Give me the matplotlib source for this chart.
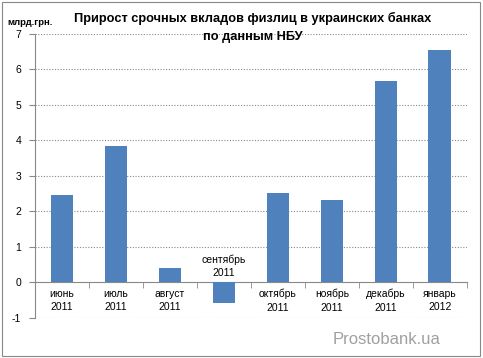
import matplotlib
matplotlib.use("Agg")
import matplotlib.pyplot as plt
import numpy as np

months = ["июнь", "июль", "август", "сентябрь", "октябрь", "ноябрь", "декабрь", "январь"]
years = ["2011", "2011", "2011", "2011", "2011", "2011", "2011", "2012"]
values = [2.45, 3.85, 0.42, -0.58, 2.52, 2.32, 5.67, 6.55]

plt.rcParams["font.family"] = ["Liberation Sans", "DejaVu Sans"]
plt.rcParams["axes.unicode_minus"] = False

fig = plt.figure(figsize=(4.83, 3.58), dpi=100)
ax = fig.add_axes([0.0725, 0.112, 0.894, 0.793])

x = np.arange(len(values))
ax.bar(x, values, width=0.42, color="#4F81BD", zorder=3)

ax.set_xlim(-0.5, len(values) - 0.5)
ax.set_ylim(-1, 7)
ax.set_yticks(range(-1, 8))
ax.tick_params(axis="y", labelsize=7.5, length=4, color="#888888", pad=6)
for y in range(-1, 8):
    if y != 0:
        ax.axhline(y, color="#888888", lw=0.8, ls=(0, (1, 1.5)), zorder=1)

for s in ["top", "right"]:
    ax.spines[s].set_visible(False)
ax.spines["left"].set_color("#888888")
ax.spines["bottom"].set_position(("data", 0))
ax.spines["bottom"].set_color("#888888")
ax.set_xticks([])
ax.set_xticks(np.arange(-0.5, len(values)), minor=True)
ax.tick_params(axis="x", which="minor", length=4, color="#888888", direction="out")

for i, (m, yr, v) in enumerate(zip(months, years, values)):
    if v < 0:
        ax.text(i, 0.12, m + "\n" + yr, ha="center", va="bottom", fontsize=7.5, linespacing=1.45)
    else:
        ax.text(i, -0.18, m + "\n" + yr, ha="center", va="top", fontsize=7.5, linespacing=1.45)

fig.text(0.524, 0.947, "Прирост срочных вкладов физлиц в украинских банках",
         ha="center", va="center", fontsize=9.2, fontweight="bold")
fig.text(0.524, 0.897, "по данным НБУ", ha="center", va="center", fontsize=9.2, fontweight="bold")
fig.text(0.015, 0.937, "млрд.грн.", ha="left", va="center", fontsize=6.8, fontweight="bold")
fig.text(0.912, 0.052, "Prostobank.ua", ha="right", va="center", fontsize=12, color="#a0a0a0")

fig.add_artist(plt.Rectangle((0.004, 0.006), 0.99, 0.988, transform=fig.transFigure,
                             fill=False, edgecolor="#888888", lw=0.8))

fig.savefig("out.png", dpi=100)
